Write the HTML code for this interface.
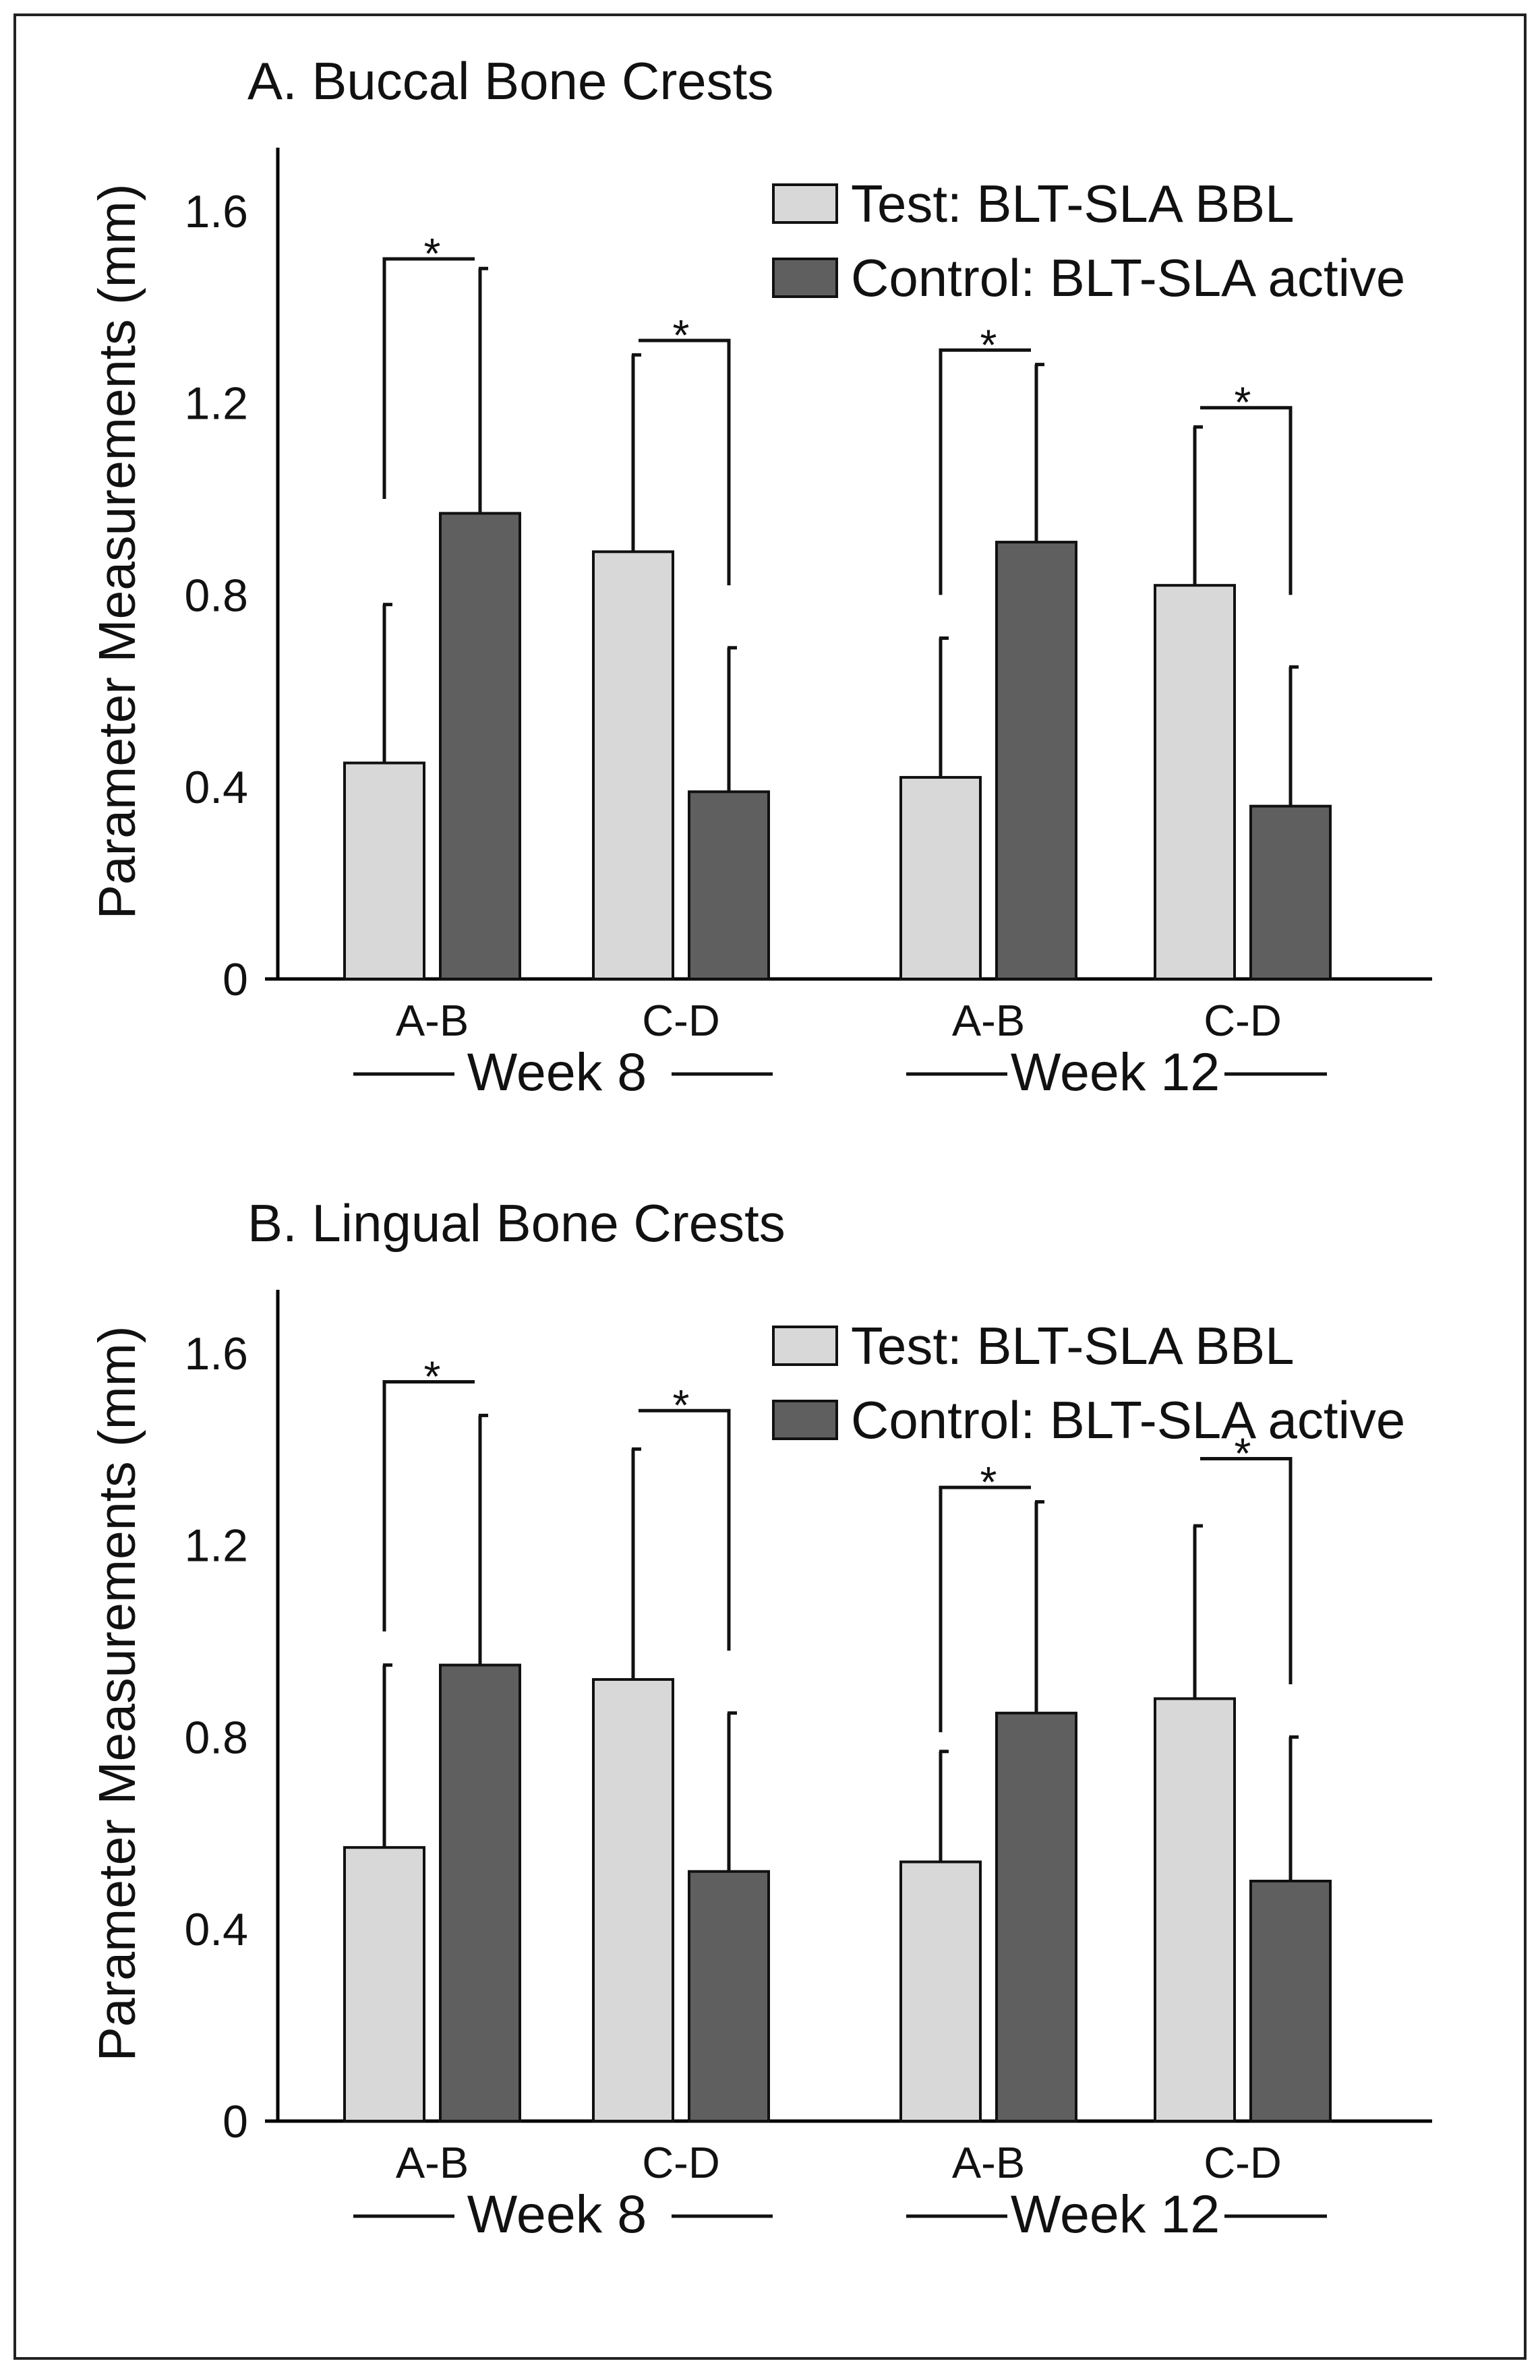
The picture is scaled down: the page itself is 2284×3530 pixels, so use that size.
<!DOCTYPE html>
<html><head><meta charset="utf-8"><style>
html,body{margin:0;padding:0;background:#fff;}
svg{display:block;font-family:"Liberation Sans",Arial,sans-serif;}
</style></head><body>
<svg id="chart" width="2284" height="3530" viewBox="0 0 2284 3530" xmlns="http://www.w3.org/2000/svg">
<rect x="22" y="22" width="2240" height="3476" fill="none" stroke="#222" stroke-width="4"/>
</svg>
<script>
const categories = ["A-B","C-D","A-B","C-D"];
const weeks = ["Week 8","Week 12"];
const yTicks = [0,0.4,0.8,1.2,1.6];
const yTickLabels = ["0","0.4","0.8","1.2","1.6"];
const seriesNames = ["Test: BLT-SLA BBL","Control: BLT-SLA active"];
const buccalTest = [0.45,0.89,0.42,0.82];
const buccalTestErr = [0.78,1.30,0.71,1.15];
const buccalControl = [0.97,0.39,0.91,0.36];
const buccalControlErr = [1.48,0.69,1.28,0.65];
const buccalBracketTop = [1.50,1.33,1.31,1.19];
const buccalBracketBottom = [1.00,0.82,0.80,0.80];
const lingualTest = [0.57,0.92,0.54,0.88];
const lingualTestErr = [0.95,1.40,0.77,1.24];
const lingualControl = [0.95,0.52,0.85,0.50];
const lingualControlErr = [1.47,0.85,1.29,0.80];
const lingualBracketTop = [1.54,1.48,1.32,1.38];
const lingualBracketBottom = [1.02,0.98,0.81,0.91];

const NS="http://www.w3.org/2000/svg";
const svg=document.getElementById('chart');
function mk(tag,attrs,parent,text){const e=document.createElementNS(NS,tag);for(const k in attrs)e.setAttribute(k,attrs[k]);if(text!==undefined)e.textContent=text;(parent||svg).appendChild(e);return e;}

const groupCenters=[641,1010,1466,1843];
const barW=118, gap=24;
const unit=712;

function drawPanel(title,zeroY,test,testErr,ctrl,ctrlErr,bTop,bBot,pid){
  const g=mk('g',{});
  
  
  const y=v=>zeroY-v*unit;
  const t=mk('text',{x:367,y:zeroY-1305,'font-size':78,fill:'#111'},g,title);
  
  
  const ya=mk('line',{x1:412,y1:zeroY-1233,x2:412,y2:zeroY+2,stroke:'#000','stroke-width':5},g);
  
  
  const xa=mk('line',{x1:393,y1:zeroY,x2:2124,y2:zeroY,stroke:'#000','stroke-width':5},g);
  
  
  yTicks.forEach((v,i)=>{
    const tl=mk('text',{x:368,y:y(v)+24,'font-size':68,'text-anchor':'end',fill:'#111'},g,yTickLabels[i]);
    
    
  });
  const yt=mk('text',{x:0,y:0,'font-size':77,'text-anchor':'middle',fill:'#111',transform:`translate(200,${zeroY-634}) rotate(-90)`},g,'Parameter Measurements (mm)');
  
  
  categories.forEach((c,i)=>{
    const cx=groupCenters[i];
    const lx=cx-gap/2-barW, dx=cx+gap/2;
    const b1=mk('rect',{x:lx,y:y(test[i]),width:barW,height:test[i]*unit,fill:'#d8d8d8',stroke:'#111','stroke-width':4},g);
    
    
    const b2=mk('rect',{x:dx,y:y(ctrl[i]),width:barW,height:ctrl[i]*unit,fill:'#5f5f5f',stroke:'#111','stroke-width':4},g);
    
    
    [[lx+barW/2,test[i],testErr[i]],[dx+barW/2,ctrl[i],ctrlErr[i]]].forEach(([ex,v,e],k)=>{
      const el=mk('path',{d:`M${ex} ${y(v)} V${y(e)} M${ex-2} ${y(e)} H${ex+12}`,stroke:'#111','stroke-width':5,fill:'none'},g);
      
      
    });
    const l=lx+barW/2, r=dx+barW/2;
    let d;
    if(i%2===0) d=`M${l} ${y(bBot[i])} V${y(bTop[i])} H${r-8}`;
    else d=`M${l+8} ${y(bTop[i])} H${r} V${y(bBot[i])}`;
    const br=mk('path',{d:d,stroke:'#111','stroke-width':5,fill:'none'},g);
    
    
    const st=mk('text',{x:(l+r)/2,y:y(bTop[i])+14,'font-size':64,'text-anchor':'middle',fill:'#111'},g,'*');
    
    
    const cl=mk('text',{x:cx,y:zeroY+84,'font-size':65,'text-anchor':'middle',fill:'#111'},g,c);
    
    
  });
  const wk=[[826,weeks[0],[524,674],[996,1146]],[1654,weeks[1],[1344,1494],[1816,1968]]];
  wk.forEach(([cx,label,l1,l2])=>{
    const wt=mk('text',{x:cx,y:zeroY+165,'font-size':79,'text-anchor':'middle',fill:'#111'},g,label);
    
    
    const ln=mk('path',{d:`M${l1[0]} ${zeroY+141} H${l1[1]} M${l2[0]} ${zeroY+141} H${l2[1]}`,stroke:'#111','stroke-width':5},g);
    
    
  });
  const fills=['#d8d8d8','#5f5f5f'];
  seriesNames.forEach((s,k)=>{
    const ly=zeroY-1178+k*110;
    const lb=mk('rect',{x:1147,y:ly,width:94,height:56,fill:fills[k],stroke:'#111','stroke-width':4},g);
    
    
    const lt=mk('text',{x:1262,y:ly+55,'font-size':78,fill:'#111'},g,s);
    
    
  });
}
drawPanel('A. Buccal Bone Crests',1452,buccalTest,buccalTestErr,buccalControl,buccalControlErr,buccalBracketTop,buccalBracketBottom,'buccal');
drawPanel('B. Lingual Bone Crests',3146,lingualTest,lingualTestErr,lingualControl,lingualControlErr,lingualBracketTop,lingualBracketBottom,'lingual');
</script>
</body></html>
